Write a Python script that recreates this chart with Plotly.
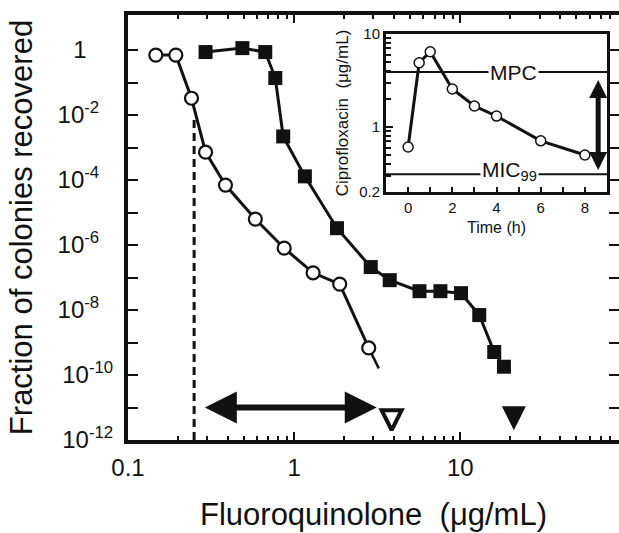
import math
import plotly.graph_objects as go

# ---------------- main panel data ----------------
open_x = [0.147, 0.194, 0.241, 0.293, 0.386, 0.584, 0.871, 1.30, 1.88, 2.81]
open_y = [0.70, 0.70, 0.033, 7.2e-4, 7.0e-5, 6.3e-6, 8.0e-7, 1.4e-7, 6.3e-8, 6.8e-10]
open_tail_x = [2.81, 3.23]
open_tail_y = [6.8e-10, 1.6e-10]

sq_x = [0.293, 0.488, 0.67, 0.77, 0.859, 1.16, 1.81, 2.89, 3.76, 5.68, 7.59, 10.1, 13.0, 16.0, 18.3]
sq_y = [0.87, 1.15, 0.87, 0.138, 2.2e-3, 1.3e-4, 3.3e-6, 2.1e-7, 8.3e-8, 3.8e-8, 3.8e-8,
        3.3e-8, 7.0e-9, 5.1e-10, 1.8e-10]

mic_x = [0.25, 0.25]
mic_y = [1e-12, 8e-3]

window_x = [0.29, 3.14]      # mutant selection window arrow
window_y = 1e-11
mpc_open_x = 3.86
mpc_filled_x = 21.0
mpc_marker_y = 2.0e-12

# x / y tick definitions
x_tickvals = [0.1, 1, 10]
x_ticktext = ["0.1", "1", "10"]
x_minor = [0.2, 0.3, 0.4, 0.5, 0.6, 0.7, 0.8, 0.9, 2, 3, 4, 5, 6, 7, 8, 9,
           20, 30, 40, 50, 60, 70, 80]
y_exps = list(range(-12, 1))


def y_label(e):
    if e == 0:
        return "1" + "&nbsp;" * 4
    if e % 2:
        return ""
    pad = "&nbsp;&nbsp;&nbsp;" if e > -10 else ""
    return "10<sup>%d%s</sup>" % (e, pad)


y_ticktext = [y_label(e) for e in y_exps]

# ---------------- inset data ----------------
time_h = [0, 0.5, 1, 2, 3, 4, 6, 8]
cipro = [0.61, 4.9, 6.45, 2.56, 1.68, 1.31, 0.71, 0.50]
MPC = 3.9
MIC99 = 0.31
inset_arrow_t = 8.6
inset_arrow_y = [0.345, 3.2]
inset_x_ticks = [0, 2, 4, 6, 8]
inset_y_ticks = [0.2, 1, 10]
inset_y_labels = ["0.2", "1", "10"]
inset_y_minor = [0.3, 0.4, 0.5, 0.6, 0.7, 0.8, 0.9, 2, 3, 4, 5, 6, 7, 8, 9]

FONT = "Liberation Sans, Arial, Helvetica, sans-serif"
INK = "#111111"

fig = go.Figure()

# dashed MIC line
fig.add_trace(go.Scatter(x=mic_x, y=mic_y, mode="lines",
                         line=dict(color=INK, width=3, dash="8px,5px")))

# window double arrow (shaft + heads)
head_len_main = 32
shaft_factor = 10 ** (head_len_main / 2 / 166)
fig.add_trace(go.Scatter(x=[window_x[0] * shaft_factor, window_x[1] / shaft_factor],
                         y=[window_y, window_y], mode="lines",
                         line=dict(color=INK, width=6)))
fig.add_trace(go.Scatter(x=window_x, y=[window_y, window_y], mode="markers",
                         marker=dict(symbol=["arrow-left", "arrow-right"], size=head_len_main,
                                     color=INK, line=dict(width=0))))

# open-circle tail
fig.add_trace(go.Scatter(x=open_tail_x, y=open_tail_y, mode="lines",
                         line=dict(color=INK, width=2.5)))
# open circles
fig.add_trace(go.Scatter(x=open_x, y=open_y, mode="lines+markers",
                         line=dict(color=INK, width=3),
                         marker=dict(symbol="circle", size=13, color="white",
                                     line=dict(color=INK, width=2.2))))
# filled squares
fig.add_trace(go.Scatter(x=sq_x, y=sq_y, mode="lines+markers",
                         line=dict(color=INK, width=3),
                         marker=dict(symbol="square", size=14, color=INK,
                                     line=dict(color=INK, width=0))))
# MPC triangles
fig.add_trace(go.Scatter(x=[mpc_open_x], y=[mpc_marker_y], mode="markers",
                         marker=dict(symbol="arrow-down", size=20, color="white",
                                     line=dict(color=INK, width=4))))
fig.add_trace(go.Scatter(x=[mpc_filled_x], y=[mpc_marker_y], mode="markers",
                         marker=dict(symbol="arrow-down", size=24, color=INK,
                                     line=dict(width=0))))

# ---------------- inset traces ----------------
fig.add_trace(go.Scatter(x=time_h, y=cipro, mode="lines+markers", xaxis="x2", yaxis="y2",
                         line=dict(color=INK, width=3),
                         marker=dict(symbol="circle", size=10, color="white",
                                     line=dict(color=INK, width=1.5))))
head_len_inset = 18
inset_factor = 10 ** (head_len_inset / 2 / 93)
fig.add_trace(go.Scatter(x=[inset_arrow_t, inset_arrow_t],
                         y=[inset_arrow_y[0] * inset_factor, inset_arrow_y[1] / inset_factor],
                         mode="lines", xaxis="x2", yaxis="y2",
                         line=dict(color=INK, width=5)))
fig.add_trace(go.Scatter(x=[inset_arrow_t, inset_arrow_t], y=inset_arrow_y, mode="markers",
                         xaxis="x2", yaxis="y2",
                         marker=dict(symbol=["arrow-down", "arrow-up"], size=head_len_inset,
                                     color=INK, line=dict(width=0))))

for level in (MPC, MIC99):
    fig.add_shape(type="line", xref="x2 domain", yref="y2", x0=0, x1=1, y0=level, y1=level,
                  line=dict(color=INK, width=2))

# annotations on a log axis take log10 positions
fig.add_annotation(x=4.75, y=math.log10(MPC), xref="x2", yref="y2", text="MPC", showarrow=False,
                   font=dict(size=21, color=INK, family=FONT), bgcolor="white", borderpad=1)
fig.add_annotation(x=4.6, y=math.log10(MIC99), xref="x2", yref="y2", text="MIC<sub>99</sub>",
                   showarrow=False, yshift=3,
                   font=dict(size=21, color=INK, family=FONT), bgcolor="white", borderpad=1)

inset_dom_x = [0.5255, 0.9756]
inset_dom_y = [0.5835, 0.9553]

fig.update_layout(
    width=619, height=533,
    margin=dict(l=128, r=0, t=15, b=93, autoexpand=False),
    paper_bgcolor="white", plot_bgcolor="white",
    showlegend=False,
    font=dict(family=FONT, color=INK),
    xaxis=dict(type="log", range=[-1, 1.955], showgrid=False, zeroline=False, automargin=False,
               showline=True, linewidth=4, linecolor=INK, mirror="ticks",
               ticks="inside", ticklen=8, tickwidth=2, tickcolor=INK,
               tickvals=x_tickvals, ticktext=x_ticktext,
               tickfont=dict(size=24), ticklabelstandoff=3,
               minor=dict(tickvals=x_minor, ticks="inside", ticklen=4, tickwidth=1.5,
                          tickcolor=INK, showgrid=False),
               title=dict(text="Fluoroquinolone&nbsp; (μg/mL)", font=dict(size=31),
                          standoff=25)),
    yaxis=dict(type="log", range=[-12, 1.08], showgrid=False, zeroline=False, automargin=False,
               showline=True, linewidth=4, linecolor=INK, mirror="ticks",
               ticks="inside", ticklen=10, tickwidth=2, tickcolor=INK,
               tickvals=[10.0 ** e for e in y_exps], ticktext=y_ticktext,
               tickfont=dict(size=24), ticklabelstandoff=6,
               title=dict(text="Fraction of colonies recovered", font=dict(size=31),
                          standoff=17)),
    xaxis2=dict(domain=inset_dom_x, anchor="y2", range=[-1, 9], showgrid=False, zeroline=False,
                automargin=False,
                showline=True, linewidth=3, linecolor=INK, mirror=True,
                ticks="inside", ticklen=5, tickwidth=2, tickcolor=INK,
                tickvals=inset_x_ticks, tickfont=dict(size=15),
                minor=dict(dtick=1, ticks="inside", ticklen=5, tickwidth=2, tickcolor=INK,
                           showgrid=False),
                title=dict(text="Time (h)", font=dict(size=16), standoff=7)),
    yaxis2=dict(domain=inset_dom_y, anchor="x2", type="log", range=[-0.699, 1],
                showgrid=False, zeroline=False, automargin=False,
                showline=True, linewidth=3, linecolor=INK, mirror=True,
                ticks="inside", ticklen=7, tickwidth=2, tickcolor=INK,
                tickvals=inset_y_ticks, ticktext=inset_y_labels, tickfont=dict(size=15),
                minor=dict(tickvals=inset_y_minor, ticks="inside", ticklen=5, tickwidth=1.5,
                           tickcolor=INK, showgrid=False),
                title=dict(text="Ciprofloxacin&nbsp; (μg/mL)", font=dict(size=17), standoff=7)),
)

# remove the browser's default 8px page margin so the figure fills the window
fig.write_html("out.html", config={"displayModeBar": False},
               post_script="document.body.style.margin='0';")
